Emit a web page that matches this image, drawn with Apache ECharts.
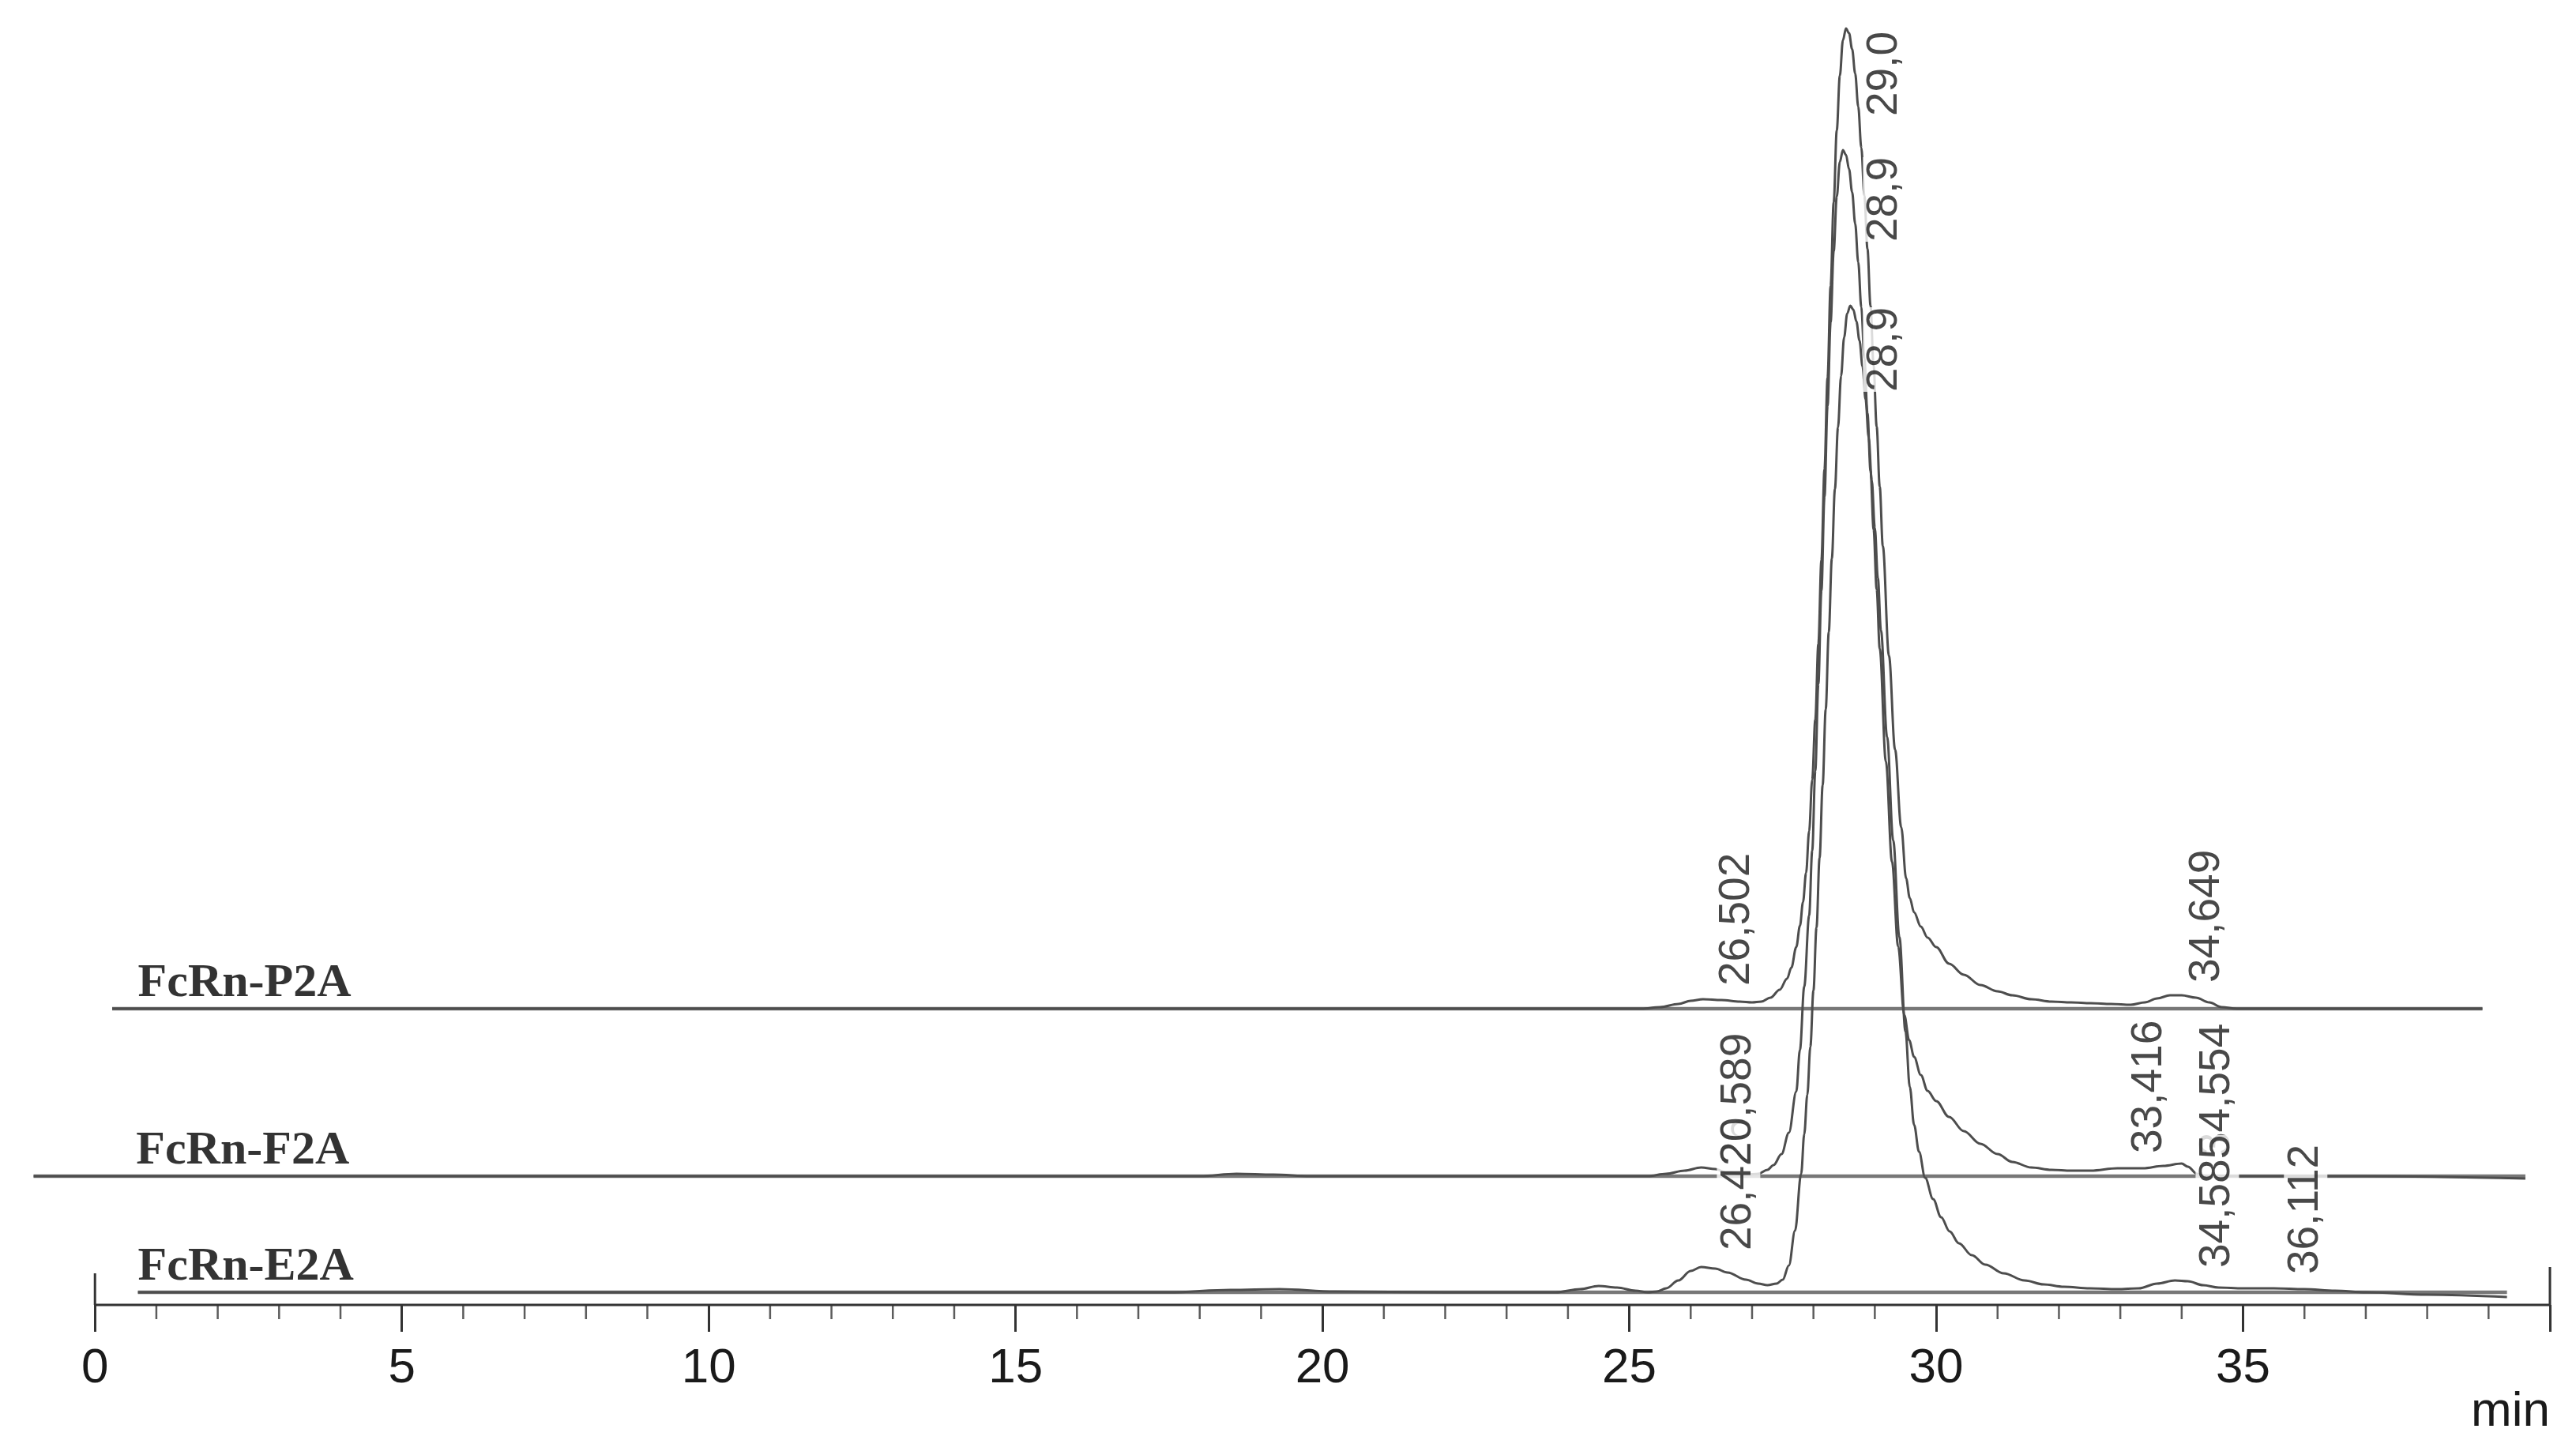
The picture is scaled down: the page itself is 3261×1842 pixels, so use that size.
<!DOCTYPE html>
<html>
<head>
<meta charset="utf-8">
<script src="https://cdn.jsdelivr.net/npm/echarts@6/dist/echarts.min.js"></script>
<style>
html,body{margin:0;padding:0;background:#fff;}
#chart{width:3261px;height:1842px;}
</style>
</head>
<body>
<div id="chart"></div>
<script>
// ---- Data (time in min, detector signal above each trace's own baseline) ----
const traceNames = ['FcRn-P2A', 'FcRn-F2A', 'FcRn-E2A'];
const traceOffsets = [375, 163, 16];

const traceP2A = [[0.28,0],[2,0],[5,0],[10,0],[15,0],[20,0],[24,0],[25.2,0],[25.5,2],[25.8,6],[26.0,10],[26.2,12],[26.5,11],[26.8,9],[27.0,8],[27.15,9],[27.3,14],[27.45,24],[27.57,38],[27.64,52],[27.72,78],[27.78,105],[27.83,135],[27.88,172],[27.93,225],[27.98,290],[28.03,366],[28.08,462],[28.13,568],[28.18,683],[28.23,799],[28.28,915],[28.33,1021],[28.38,1112],[28.43,1181],[28.48,1226],[28.53,1241],[28.58,1235],[28.63,1215],[28.68,1184],[28.73,1142],[28.78,1090],[28.83,1029],[28.88,962],[28.93,890],[28.98,814],[29.03,737],[29.08,661],[29.13,586],[29.23,447],[29.33,328],[29.43,230],[29.51,165],[29.57,140],[29.64,122],[29.75,104],[29.86,90],[30.0,78],[30.21,57],[30.45,43],[30.72,30],[31.0,22],[31.24,17],[31.55,12],[31.88,9],[32.2,8],[32.52,7],[32.85,6],[33.17,5],[33.4,8],[33.6,13],[33.81,17],[34.0,17],[34.23,14],[34.45,8],[34.65,2],[34.9,0],[36,0],[38.9,0]];

const traceF2A = [[-1.0,0],[2,0],[5,0],[10,0],[15,0],[18.0,0],[18.6,3],[19.2,2],[19.8,0],[24,0],[25.3,0],[25.6,3],[25.9,7],[26.17,11],[26.4,9],[26.6,4],[26.9,2],[27.1,3],[27.25,8],[27.35,14],[27.48,28],[27.6,55],[27.72,107],[27.78,160],[27.85,240],[27.93,330],[27.98,412],[28.03,513],[28.08,623],[28.13,741],[28.18,860],[28.23,975],[28.28,1081],[28.33,1171],[28.38,1240],[28.43,1284],[28.48,1299],[28.53,1293],[28.58,1275],[28.63,1246],[28.68,1206],[28.73,1157],[28.78,1100],[28.83,1035],[28.88,966],[28.93,893],[28.98,819],[29.03,743],[29.08,668],[29.18,525],[29.28,398],[29.38,291],[29.48,204],[29.56,172],[29.64,151],[29.75,128],[29.86,108],[30.0,95],[30.21,75],[30.45,57],[30.72,41],[31.0,28],[31.24,18],[31.55,11],[31.88,8],[32.2,7],[32.52,7],[32.95,10],[33.37,10],[33.7,13],[34.0,16],[34.1,12],[34.25,3],[34.4,0],[37,0],[39.6,-3]];

const traceE2A = [[0.7,0],[3,0],[6,0],[10,0],[15,0],[17.5,0],[18.5,3],[19.3,4],[20.2,1],[22,0],[23.8,0],[24.2,4],[24.5,8],[24.8,6],[25.1,2],[25.3,0],[25.45,1],[25.6,5],[25.8,15],[26.0,27],[26.17,32],[26.4,30],[26.6,25],[26.9,16],[27.1,11],[27.25,9],[27.4,11],[27.5,16],[27.6,34],[27.7,78],[27.8,150],[27.85,200],[27.9,250],[27.95,311],[28.0,382],[28.05,462],[28.1,550],[28.15,642],[28.2,738],[28.25,836],[28.3,929],[28.35,1017],[28.4,1095],[28.45,1160],[28.5,1209],[28.55,1239],[28.6,1249],[28.65,1244],[28.7,1229],[28.75,1205],[28.8,1172],[28.85,1130],[28.9,1082],[28.95,1028],[29.0,968],[29.05,904],[29.1,838],[29.2,703],[29.3,572],[29.4,450],[29.5,330],[29.57,260],[29.64,212],[29.72,178],[29.82,145],[29.95,118],[30.08,95],[30.22,77],[30.37,62],[30.58,47],[30.8,35],[31.1,24],[31.44,15],[31.75,10],[32.08,7],[32.5,5],[32.95,4],[33.3,5],[33.6,11],[33.89,15],[34.1,14],[34.35,9],[34.6,6],[35.0,5],[35.5,5],[36.0,4],[36.5,2],[37.0,0],[38.0,-3],[39.3,-6]];

const traces = [traceP2A, traceF2A, traceE2A];

// Peak annotations (drawn in this order, later ones on top): text, anchor time, text foot level
const peakLabelText = ['29,0', '28,9', '28,9', '26,502', '34,649', '26,589', '33,416', '34,554', '26,420', '34,585', '36,112'];
const peakLabelTime = [29.16, 29.16, 29.16, 26.75, 34.41, 26.78, 33.47, 34.58, 26.78, 34.58, 36.02];
const peakLabelLevel = [1505, 1346, 1156, 404, 408, 176, 192, 188, 69, 47, 39];

// Trace name annotations
const nameLabelTime = [0.70, 0.67, 0.70];

// Axis values
const axisStart = 0, axisEnd = 40, viewMin = -1.2;
const majorTicks = [0, 5, 10, 15, 20, 25, 30, 35, 40];
const tickLabels = [0, 5, 10, 15, 20, 25, 30, 35];
const minorTicks = [];
for (let m = axisStart + 1; m < axisEnd; m++) { if (m % 5 !== 0) minorTicks.push(m); }

// ---- Build ----
const series = [];
const lineColor = '#4d4d4d';
const axisColor = '#333';
traces.forEach((tr, i) => {
  const off = traceOffsets[i];
  const first = tr[0][0], last = tr[tr.length - 1][0];
  series.push({
    name: traceNames[i] + ' baseline', type: 'line', silent: true,
    symbol: 'none', lineStyle: { color: '#777', width: 4.5 },
    data: [[first, off], [last, off]], z: 1
  });
  series.push({
    name: traceNames[i], type: 'line', silent: true,
    symbol: 'none', smooth: 0.35, smoothMonotone: 'x',
    lineStyle: { color: lineColor, width: 3 },
    data: tr.map(p => [p[0], p[1] + off]), z: 2
  });
});

series.push({
  name: 'names', type: 'scatter', symbolSize: 0, silent: true, clip: false,
  data: traceNames.map((n, i) => ({ name: n, value: [nameLabelTime[i], traceOffsets[i] + 2] })),
  label: {
    show: true, position: 'inside', align: 'left', verticalAlign: 'bottom',
    formatter: p => p.name,
    fontFamily: '"Liberation Serif", "Times New Roman", serif',
    fontWeight: 'bold', fontSize: 60, color: '#000'
  }, z: 5
});

series.push({
  name: 'peaks', type: 'scatter', symbolSize: 0, silent: true, clip: false,
  data: peakLabelText.map((t, i) => ({ name: t, value: [peakLabelTime[i], peakLabelLevel[i]] })),
  label: {
    show: true, position: 'inside', rotate: 90, align: 'left', verticalAlign: 'middle',
    formatter: p => p.name, backgroundColor: '#fff', padding: [0, 0, 0, 0],
    fontFamily: '"Liberation Sans", Arial, sans-serif', fontSize: 55, color: '#1a1a1a'
  }, z: 5
});

// axis line, minor ticks and the two end bars
series.push({
  name: 'axisLine', type: 'line', symbol: 'none', silent: true,
  lineStyle: { color: axisColor, width: 3 }, data: [[axisStart, 0], [axisEnd, 0]], z: 3
});
series.push({
  name: 'minorTicks', type: 'scatter', silent: true, clip: false,
  symbol: 'rect', symbolSize: [2.5, 18], symbolOffset: [0, 9],
  itemStyle: { color: axisColor },
  data: minorTicks.map(m => [m, 0]), z: 3
});
series.push({
  name: 'axisEndL', type: 'line', symbol: 'none', silent: true,
  lineStyle: { color: axisColor, width: 3 }, data: [[axisStart, 0], [axisStart, 40]], z: 3
});
series.push({
  name: 'axisEndR', type: 'line', symbol: 'none', silent: true,
  lineStyle: { color: axisColor, width: 3 }, data: [[axisEnd, 0], [axisEnd, 48]], z: 3
});

const chart = echarts.init(document.getElementById('chart'), null, { renderer: 'canvas' });
chart.setOption({
  animation: false,
  backgroundColor: '#fff',
  grid: { left: 27, right: 33, top: 0, bottom: 110, containLabel: false },
  xAxis: {
    type: 'value', min: viewMin, max: axisEnd, position: 'bottom',
    axisLine: { show: false, onZero: true, lineStyle: { color: axisColor, width: 3 } },
    axisTick: { show: true, length: 34, customValues: majorTicks, lineStyle: { color: axisColor, width: 3 } },
    axisLabel: {
      show: true, margin: -30, fontSize: 62, color: '#1a1a1a', customValues: tickLabels,
      fontFamily: '"Liberation Sans", Arial, sans-serif'
    },
    splitLine: { show: false },
    name: 'min', nameLocation: 'end', nameGap: 0,
    nameTextStyle: {
      fontSize: 62, color: '#1a1a1a', align: 'right', verticalAlign: 'top',
      fontFamily: '"Liberation Sans", Arial, sans-serif', padding: [105, 0, 0, 0]
    }
  },
  yAxis: {
    type: 'value', min: -80, max: 1652, show: true,
    axisLine: { show: false }, axisTick: { show: false },
    axisLabel: { show: false }, splitLine: { show: false }
  },
  series: series
});
</script>
</body>
</html>
